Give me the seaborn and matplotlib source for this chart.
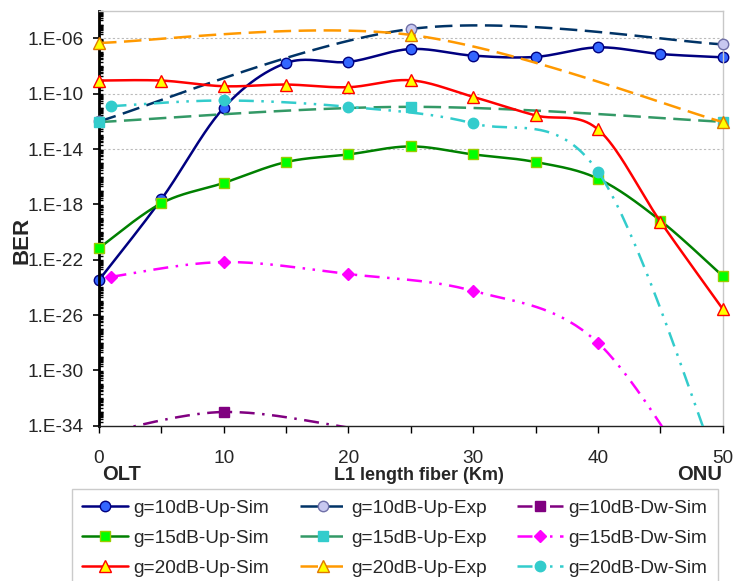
import numpy as np
import matplotlib
matplotlib.use("Agg")
import matplotlib.pyplot as plt
from matplotlib.lines import Line2D
from matplotlib.ticker import FixedLocator, FuncFormatter, NullFormatter
import seaborn as sns

# ---------------- data (log10 of BER) ----------------
x_sim = [0, 5, 10, 15, 20, 25, 30, 35, 40, 45, 50]
x_exp = [0, 25, 50]
x_dw = [1, 10, 20, 30, 40, 50]

g10_up_sim = [-23.47, -17.63, -11.02, -7.78, -7.70, -6.77, -7.25, -7.34, -6.65, -7.13, -7.37]
g10_up_exp = [-12.0, -5.32, -6.43]
g10_dw_sim = [-34.4, -33.01, -34.15, -36.0, -40.0, -46.0]
g15_up_sim = [-21.16, -17.92, -16.45, -14.94, -14.39, -13.81, -14.39, -14.94, -16.14, -19.17, -23.18]
g15_up_exp = [-12.05, -10.95, -12.03]
g15_dw_sim = [-23.23, -22.17, -23.04, -24.26, -28.01, -41.0]
g20_up_sim = [-9.05, -9.05, -9.46, -9.34, -9.53, -9.03, -10.23, -11.57, -12.58, -19.24, -25.56]
g20_up_exp = [-6.33, -5.75, -12.05]
g20_dw_sim = [-10.9, -10.49, -10.95, -12.15, -15.63, -38.0]

labels = ["g=10dB-Up-Sim", "g=10dB-Up-Exp", "g=10dB-Dw-Sim",
          "g=15dB-Up-Sim", "g=15dB-Up-Exp", "g=15dB-Dw-Sim",
          "g=20dB-Up-Sim", "g=20dB-Up-Exp", "g=20dB-Dw-Sim"]
y_tick_exps = list(range(-34, -3, 4))
x_ticks = [0, 10, 20, 30, 40, 50]
Y_MIN_EXP, Y_MAX_EXP = -34, -4

# ---------------- style ----------------
sns.set_theme(style="white")
plt.rcParams['font.family'] = ['Liberation Sans', 'DejaVu Sans']

LW = 1.8
dash_long = (0, (7, 3))
dash_dot = (0, (6, 3, 1, 3))
dash_dot_dot = (0, (6, 3, 1, 3, 1, 3))

styles = [
    dict(x=x_sim, y=g10_up_sim, color="#000080", ls="-", marker="o", mfc="#3366FF", mec="#000080", ms=7.5),
    dict(x=x_exp, y=g10_up_exp, color="#003366", ls=dash_long, marker="o", mfc="#C8C8F0", mec="#7070A8", ms=7.5),
    dict(x=x_dw, y=g10_dw_sim, color="#800080", ls=dash_dot, marker="s", mfc="#800080", mec="#800080", ms=7),
    dict(x=x_sim, y=g15_up_sim, color="#008000", ls="-", marker="s", mfc="#00FF00", mec="#99CC00", ms=7.5),
    dict(x=x_exp, y=g15_up_exp, color="#339966", ls=dash_long, marker="s", mfc="#33CCCC", mec="#33CCCC", ms=7.5),
    dict(x=x_dw, y=g15_dw_sim, color="#FF00FF", ls=dash_dot_dot, marker="D", mfc="#FF00FF", mec="#FF00FF", ms=6),
    dict(x=x_sim, y=g20_up_sim, color="#FF0000", ls="-", marker="^", mfc="#FFFF00", mec="#FF0000", ms=8),
    dict(x=x_exp, y=g20_up_exp, color="#FF9900", ls=dash_long, marker="^", mfc="#FFFF00", mec="#E07800", ms=8),
    dict(x=x_dw, y=g20_dw_sim, color="#33CCCC", ls=dash_dot_dot, marker="o", mfc="#33CCCC", mec="#33CCCC", ms=7.5),
]


def excel_smooth(xs, ys, n=40):
    pts = np.column_stack([np.asarray(xs, float), np.asarray(ys, float)])
    m = len(pts)
    out = []
    t = np.linspace(0, 1, n)[:, None]
    for i in range(m - 1):
        p0 = pts[max(i - 1, 0)]
        p1 = pts[i]
        p2 = pts[i + 1]
        p3 = pts[min(i + 2, m - 1)]
        c1 = p1 + (p2 - p0) / 6.0
        c2 = p2 - (p3 - p1) / 6.0
        seg = (1 - t) ** 3 * p1 + 3 * (1 - t) ** 2 * t * c1 + 3 * (1 - t) * t ** 2 * c2 + t ** 3 * p2
        out.append(seg if i == 0 else seg[1:])
    return np.vstack(out)


W, H = 735, 581
fig = plt.figure(figsize=(W / 100, H / 100), dpi=100)
ax_l, ax_r, ax_t, ax_b = 99, 722.7, 10.7, 425.7
ax = fig.add_axes([ax_l / W, 1 - ax_b / H, (ax_r - ax_l) / W, (ax_b - ax_t) / H])

ax.set_yscale("log")

# gridlines (only upper three majors visible in reference)
for e in [-6, -10, -14]:
    ax.axhline(10.0 ** e, color="#BBBBBB", lw=0.8, ls=(0, (2, 2)), zorder=0.5)

z = 2
for st in styles:
    curve = excel_smooth(st["x"], st["y"])
    sns.lineplot(x=curve[:, 0], y=10.0 ** curve[:, 1], ax=ax, color=st["color"],
                 linestyle=st["ls"], linewidth=LW, sort=False, estimator=None,
                 zorder=z)
    xs = np.asarray(st["x"], float)
    ys = np.asarray(st["y"], float)
    keep = (ys >= Y_MIN_EXP) & (ys <= Y_MAX_EXP)
    ax.plot(xs[keep], 10.0 ** ys[keep], linestyle="none", marker=st["marker"],
            markerfacecolor=st["mfc"], markeredgecolor=st["mec"], markersize=st["ms"],
            markeredgewidth=1.0, zorder=z + 0.5, clip_on=False)
    z += 1

ax.set_xlim(0, 50)
ax.set_ylim(10.0 ** Y_MIN_EXP, 10.0 ** Y_MAX_EXP)

ax.xaxis.set_major_locator(FixedLocator(x_ticks))
ax.xaxis.set_minor_locator(FixedLocator([5, 15, 25, 35, 45]))
ax.yaxis.set_major_locator(FixedLocator([10.0 ** e for e in y_tick_exps]))
minor = []
for k in range(Y_MIN_EXP, Y_MAX_EXP):
    for mm in range(1, 10):
        if mm == 1 and k in y_tick_exps:
            continue
        minor.append(mm * 10.0 ** k)
ax.yaxis.set_minor_locator(FixedLocator(minor))
ax.yaxis.set_minor_formatter(NullFormatter())


def yfmt(v, pos):
    e = int(round(np.log10(v)))
    return f"1.E-{abs(e):02d}"


ax.yaxis.set_major_formatter(FuncFormatter(yfmt))

ax.tick_params(axis="y", which="major", direction="out", length=4, width=1.2,
               color="black", labelsize=13.7, pad=7, left=True, right=False)
ax.tick_params(axis="y", which="minor", direction="in", length=3, width=1.0,
               color="black", left=True, right=False)
ax.tick_params(axis="x", which="both", direction="out", length=5, width=1.0,
               color="black", labelsize=13.7, pad=12.5, bottom=True, top=False)

for side in ["top", "right"]:
    ax.spines[side].set_color("#C8C8C8")
    ax.spines[side].set_linewidth(1.0)
ax.spines["left"].set_color("black")
ax.spines["left"].set_linewidth(2.0)
ax.spines["bottom"].set_color("#222222")
ax.spines["bottom"].set_linewidth(1.0)
ax.set_xlabel("")
ax.set_ylabel("")

fig.text(22 / W, 1 - 240 / H, "BER", rotation=90, fontsize=16, fontweight="bold",
         ha="center", va="center")
fig.text(101.7 / W, 1 - 475 / H, "OLT", fontsize=14.5, fontweight="bold", ha="left", va="center")
fig.text(721.7 / W, 1 - 475 / H, "ONU", fontsize=14.5, fontweight="bold", ha="right", va="center")
fig.text(419 / W, 1 - 475 / H, "L1 length fiber (Km)", fontsize=13, fontweight="bold",
         ha="center", va="center")

handles = []
for st, lab in zip(styles, labels):
    handles.append(Line2D([], [], color=st["color"], linestyle=st["ls"], linewidth=LW,
                          marker=st["marker"], markerfacecolor=st["mfc"],
                          markeredgecolor=st["mec"], markersize=st["ms"], label=lab))
order = [0, 3, 6, 1, 4, 7, 2, 5, 8]
leg = fig.legend([handles[i] for i in order], [labels[i] for i in order],
                 loc="upper left", bbox_to_anchor=(71.7 / W, 1 - 489 / H), ncol=3,
                 fontsize=13.7, frameon=True, fancybox=False, shadow=False,
                 handlelength=2.4, handletextpad=0.3, columnspacing=1.6,
                 labelspacing=0.66, borderpad=0.55, borderaxespad=0.0, numpoints=1)
leg.get_frame().set_edgecolor("#BFBFBF")
leg.get_frame().set_linewidth(1.0)

fig.savefig("out.png", dpi=100, facecolor="white")
